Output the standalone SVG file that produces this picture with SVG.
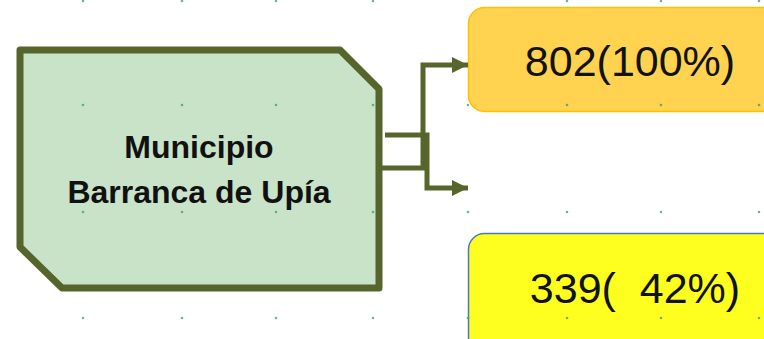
<svg xmlns="http://www.w3.org/2000/svg" width="764" height="339" viewBox="0 0 764 339">
<defs>
<style>
.lbl{font-family:"Liberation Sans",Arial,sans-serif;fill:#111;text-anchor:middle}
.big{font-size:43px;white-space:pre}
.conn{fill:none;stroke:#56652B;stroke-width:5;stroke-linejoin:miter}
.dot{fill:#3f9a6c;opacity:0.75}
</style>
<marker id="arr" markerWidth="16" markerHeight="16" refX="15" refY="7.5" viewBox="0 0 15 15" markerUnits="userSpaceOnUse" orient="auto">
<path d="M0,0 L15,7.5 L0,15 Z" fill="#56652B"/>
</marker>
</defs>
<rect width="764" height="339" fill="#ffffff"/>
<g id="municipio">
<path d="M20,50 L340,50 L379,89 L379,288 L62,288 L20,247 Z" fill="#C9E3C8" stroke="#56652B" stroke-width="7" stroke-linejoin="round"/>
<text class="lbl" x="199" y="158" font-size="32" font-weight="bold">Municipio</text>
<text class="lbl" x="199" y="203" font-size="32" font-weight="bold">Barranca de Upía</text>
</g>
<g id="total">
<rect x="468.5" y="7.5" width="320" height="104" rx="16" fill="#FFD34F" stroke="#FFC000" stroke-width="1.5"/>
<text class="lbl big" x="630" y="76">802(100%)</text>
</g>
<g id="parcial">
<rect x="468.5" y="233.5" width="320" height="130" rx="16" fill="#FFFF1F" stroke="#4A78C2" stroke-width="1.5"/>
<text class="lbl big" x="635" y="303" xml:space="preserve">339(  42%)</text>
</g>
<g id="connectors">
<path class="conn" d="M381,168 L423,168 L423,65 L468,65" marker-end="url(#arr)"/>
<path class="conn" d="M385,135 L427,135 L427,188 L468,188" marker-end="url(#arr)"/>
</g>
<g id="grid">
<circle class="dot" cx="83" cy="1" r="1.3"/><circle class="dot" cx="182" cy="1" r="1.3"/><circle class="dot" cx="276" cy="1" r="1.3"/><circle class="dot" cx="373" cy="1" r="1.3"/><circle class="dot" cx="567" cy="1" r="1.3"/><circle class="dot" cx="661" cy="1" r="1.3"/><circle class="dot" cx="759" cy="1" r="1.3"/>
<circle class="dot" cx="83" cy="105" r="1.3"/><circle class="dot" cx="182" cy="105" r="1.3"/><circle class="dot" cx="276" cy="105" r="1.3"/><circle class="dot" cx="373" cy="105" r="1.3"/><circle class="dot" cx="468" cy="105" r="1.3"/><circle class="dot" cx="567" cy="105" r="1.3"/><circle class="dot" cx="661" cy="105" r="1.3"/><circle class="dot" cx="759" cy="105" r="1.3"/>
<circle class="dot" cx="83" cy="212" r="1.3"/><circle class="dot" cx="182" cy="212" r="1.3"/><circle class="dot" cx="276" cy="212" r="1.3"/><circle class="dot" cx="373" cy="212" r="1.3"/><circle class="dot" cx="468" cy="212" r="1.3"/><circle class="dot" cx="567" cy="212" r="1.3"/><circle class="dot" cx="661" cy="212" r="1.3"/><circle class="dot" cx="759" cy="212" r="1.3"/>
<circle class="dot" cx="83" cy="318" r="1.3"/><circle class="dot" cx="182" cy="318" r="1.3"/><circle class="dot" cx="276" cy="318" r="1.3"/><circle class="dot" cx="373" cy="318" r="1.3"/><circle class="dot" cx="468" cy="318" r="1.3"/><circle class="dot" cx="567" cy="318" r="1.3"/><circle class="dot" cx="661" cy="318" r="1.3"/><circle class="dot" cx="759" cy="318" r="1.3"/>
</g>
</svg>
